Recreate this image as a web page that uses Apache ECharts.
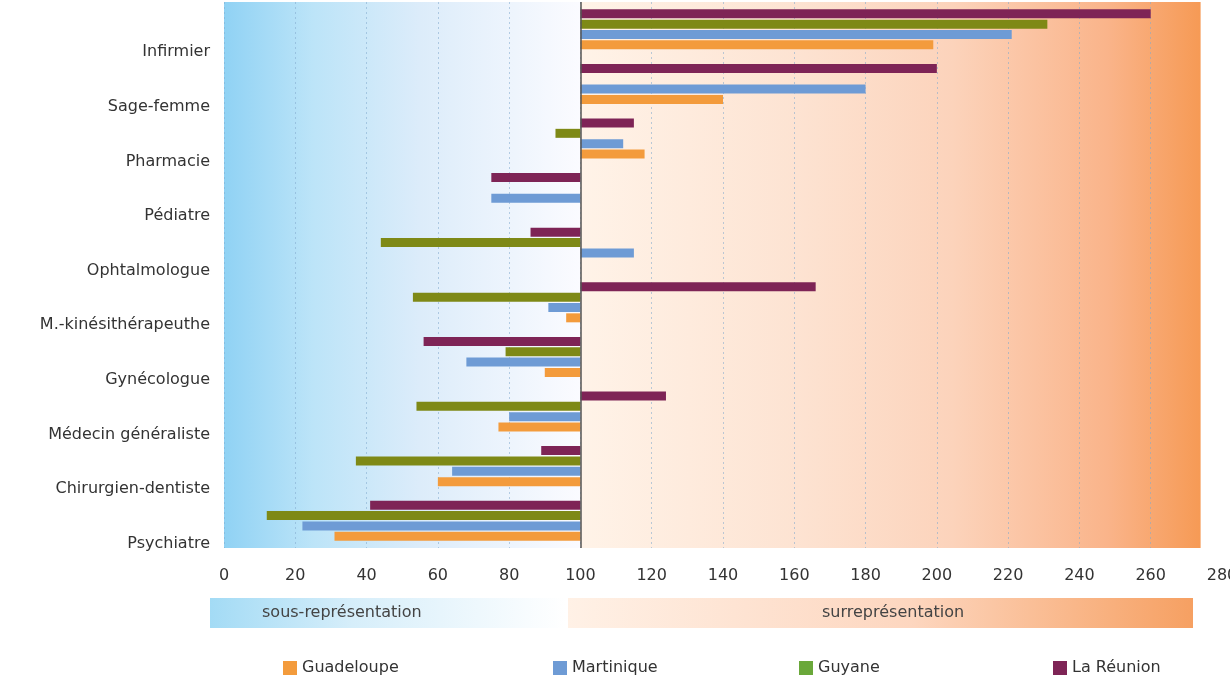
<!DOCTYPE html>
<html>
<head>
<meta charset="utf-8">
<script src="https://cdn.jsdelivr.net/npm/echarts@6/dist/echarts.min.js"></script>
<style>
html, body { margin: 0; padding: 0; background: #fff; }
#chart { width: 1230px; height: 679px; }
</style>
</head>
<body>
<div id="chart"></div>
<script>
// categories, bottom to top
var categories = ['Psychiatre', 'Chirurgien-dentiste', 'Médecin généraliste', 'Gynécologue',
    'M.-kinésithérapeuthe', 'Ophtalmologue', 'Pédiatre', 'Pharmacie', 'Sage-femme', 'Infirmier'];

var guadeloupe = [31, 60, 77, 90, 96, null, null, 118, 140, 199];
var martinique = [22, 64, 80, 68, 91, 115, 75, 112, 180, 221];
var guyane = [12, 37, 54, 79, 53, 44, null, 93, null, 231];
var reunion = [41, 89, 124, 56, 166, 86, 75, 115, 200, 260];

var regionNames = ['Guadeloupe', 'Martinique', 'Guyane', 'La Réunion'];
var regionValues = [guadeloupe, martinique, guyane, reunion];
var regionColors = ['#f39b3c', '#6e9bd5', '#7e8916', '#7e2456'];
var legendIconColors = ['#f39b3c', '#6e9bd5', '#6aa83a', '#7e2456'];

var baseline = 100;       // bars grow from the 100 index line
var xMin = 0, xMax = 280, xStep = 20;
var shadeEnd = 274;       // where the coloured background stops

var FONT = 'DejaVu Sans';

var dom = document.getElementById('chart');
var myChart = echarts.init(dom, null, { renderer: 'canvas' });

var series = [];

// background shading + index line
series.push({
    name: 'fond',
    type: 'line',
    data: [],
    silent: true,
    markArea: {
        silent: true,
        z: -1,
        data: [
            [{ xAxis: xMin, itemStyle: { color: new echarts.graphic.LinearGradient(0, 0, 1, 0, [
                { offset: 0, color: '#90d2f4' },
                { offset: 0.25, color: '#bce4f8' },
                { offset: 0.55, color: '#dcecfa' },
                { offset: 1, color: '#fbfbff' }
            ]) } }, { xAxis: baseline }],
            [{ xAxis: baseline, itemStyle: { color: new echarts.graphic.LinearGradient(0, 0, 1, 0, [
                { offset: 0, color: '#fff3e8' },
                { offset: 0.35, color: '#fde3d2' },
                { offset: 0.6, color: '#fcd3bb' },
                { offset: 0.85, color: '#fab48a' },
                { offset: 1, color: '#f69a55' }
            ]) } }, { xAxis: shadeEnd }]
        ]
    },
    markLine: {
        silent: true,
        symbol: ['none', 'none'],
        label: { show: false },
        lineStyle: { color: '#555', width: 1.5, type: 'solid' },
        data: [{ xAxis: baseline }]
    }
});

// horizontal bars: first series sits at the top of each band,
// so push La Réunion first and Guadeloupe last
for (var i = regionNames.length - 1; i >= 0; i--) {
    var vals = regionValues[i];
    series.push({
        name: 'base-' + i,
        type: 'bar',
        stack: 's' + i,
        barWidth: 9,
        barGap: '15%',
        silent: true,
        itemStyle: { color: 'transparent' },
        data: vals.map(function (v) { return v == null ? null : Math.min(v, baseline); })
    });
    series.push({
        name: regionNames[i],
        type: 'bar',
        stack: 's' + i,
        barWidth: 9,
        barGap: '15%',
        itemStyle: { color: regionColors[i] },
        data: vals.map(function (v) { return v == null ? null : Math.abs(v - baseline); })
    });
}

var legendLeft = [278, 548, 794, 1048];
var legends = regionNames.map(function (name, i) {
    return {
        left: legendLeft[i],
        top: 655,
        icon: 'rect',
        itemWidth: 14,
        itemHeight: 14,
        itemGap: 10,
        textStyle: { fontFamily: FONT, fontSize: 16, color: '#333' },
        data: [{ name: name, itemStyle: { color: legendIconColors[i] } }]
    };
});

var option = {
    animation: false,
    textStyle: { fontFamily: FONT },
    grid: { left: 224, right: 8, top: 2, bottom: 131, containLabel: false, outerBoundsMode: 'none' },
    legend: legends,
    xAxis: {
        type: 'value',
        min: xMin,
        max: xMax,
        interval: xStep,
        axisLine: { show: false },
        axisTick: { show: false },
        axisLabel: { fontFamily: FONT, fontSize: 16, color: '#333', margin: 20 },
        splitLine: {
            show: true,
            showMaxLine: false,
            lineStyle: { color: 'rgba(130,170,205,0.55)', width: 1, type: [2, 3] }
        }
    },
    yAxis: {
        type: 'category',
        data: categories,
        axisLine: { show: false },
        axisTick: { show: false },
        splitLine: { show: false },
        axisLabel: {
            fontFamily: FONT,
            fontSize: 16,
            color: '#333',
            margin: 14,
            verticalAlign: 'top',
            lineHeight: 46
        }
    },
    graphic: [
        {
            type: 'rect',
            left: 210, top: 598,
            shape: { width: 356, height: 30 },
            style: { fill: new echarts.graphic.LinearGradient(0, 0, 1, 0, [
                { offset: 0, color: '#a3dbf5' },
                { offset: 0.4, color: '#d6eefa' },
                { offset: 1, color: '#ffffff' }
            ]) },
            silent: true
        },
        {
            type: 'text',
            left: 262, top: 605,
            style: { text: 'sous-représentation', font: '16px "DejaVu Sans"', fill: '#444' },
            silent: true
        },
        {
            type: 'rect',
            left: 568, top: 598,
            shape: { width: 625, height: 30 },
            style: { fill: new echarts.graphic.LinearGradient(0, 0, 1, 0, [
                { offset: 0, color: '#fff1e6' },
                { offset: 0.55, color: '#fdd6bf' },
                { offset: 1, color: '#f6a062' }
            ]) },
            silent: true
        },
        {
            type: 'text',
            left: 822, top: 605,
            style: { text: 'surreprésentation', font: '16px "DejaVu Sans"', fill: '#444' },
            silent: true
        }
    ],
    series: series
};

myChart.setOption(option);
window.addEventListener('resize', myChart.resize);
</script>
</body>
</html>
